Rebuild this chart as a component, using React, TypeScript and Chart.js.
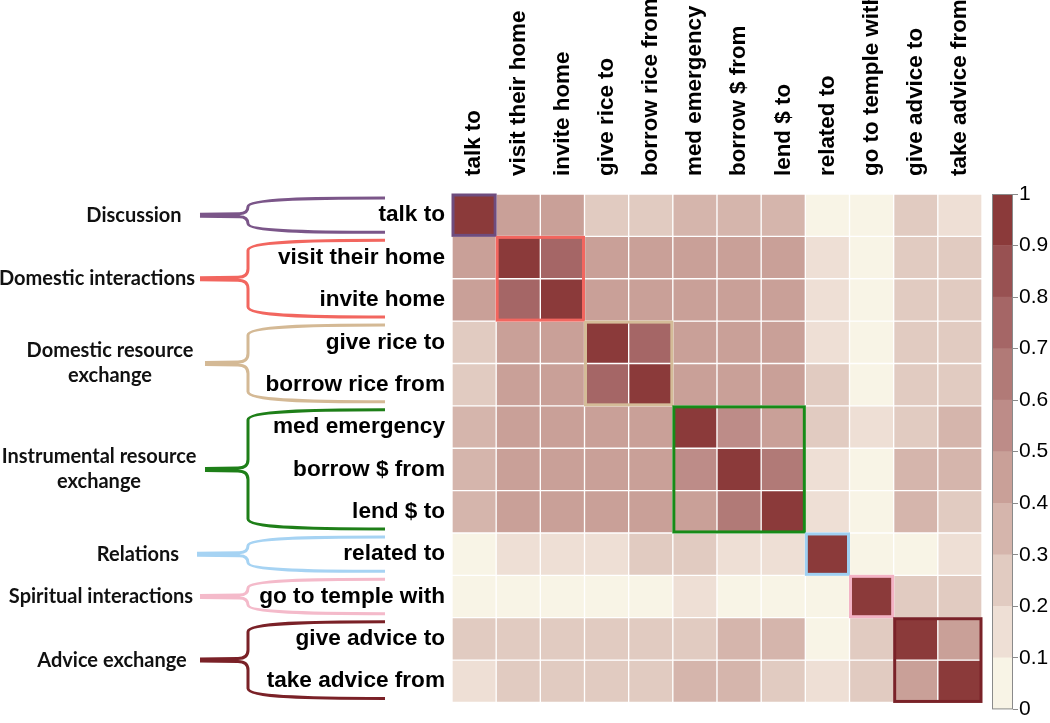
import React, { useEffect, useRef } from 'react';
import { Chart, registerables } from 'chart.js';

Chart.register(...registerables);

// ---------- data ----------
const rowLabels = [
  'talk to', 'visit their home', 'invite home', 'give rice to', 'borrow rice from',
  'med emergency', 'borrow $ from', 'lend $ to', 'related to', 'go to temple with',
  'give advice to', 'take advice from',
];
const colLabels = [
  'talk to', 'visit their home', 'invite home', 'give rice to', 'borrow rice from',
  'med emergency', 'borrow $ from', 'lend $ to', 'related to', 'go to temple with',
  'give advice to', 'take advice from',
];

const talkTo = [1, 0.42, 0.42, 0.25, 0.25, 0.35, 0.35, 0.35, 0.05, 0.05, 0.25, 0.15];
const visitTheirHome = [0.42, 1, 0.75, 0.45, 0.45, 0.45, 0.45, 0.45, 0.15, 0.05, 0.25, 0.25];
const inviteHome = [0.42, 0.75, 1, 0.45, 0.45, 0.45, 0.45, 0.45, 0.15, 0.05, 0.25, 0.25];
const giveRiceTo = [0.25, 0.45, 0.45, 1, 0.72, 0.45, 0.45, 0.45, 0.15, 0.05, 0.25, 0.25];
const borrowRiceFrom = [0.25, 0.45, 0.45, 0.72, 1, 0.45, 0.45, 0.45, 0.25, 0.05, 0.25, 0.25];
const medEmergency = [0.35, 0.45, 0.45, 0.45, 0.45, 1, 0.55, 0.45, 0.25, 0.15, 0.25, 0.35];
const borrowMoneyFrom = [0.35, 0.45, 0.45, 0.45, 0.45, 0.55, 1, 0.65, 0.15, 0.05, 0.35, 0.35];
const lendMoneyTo = [0.35, 0.45, 0.45, 0.45, 0.45, 0.45, 0.65, 1, 0.15, 0.05, 0.35, 0.25];
const relatedTo = [0.05, 0.15, 0.15, 0.15, 0.25, 0.25, 0.15, 0.15, 1, 0.05, 0.05, 0.15];
const templeWith = [0.05, 0.05, 0.05, 0.05, 0.05, 0.15, 0.05, 0.05, 0.05, 1, 0.25, 0.25];
const giveAdviceTo = [0.25, 0.25, 0.25, 0.25, 0.25, 0.25, 0.35, 0.35, 0.05, 0.25, 1, 0.45];
const takeAdviceFrom = [0.15, 0.25, 0.25, 0.25, 0.25, 0.35, 0.35, 0.25, 0.15, 0.25, 0.45, 1];

const matrixRows = [
  talkTo, visitTheirHome, inviteHome, giveRiceTo, borrowRiceFrom, medEmergency,
  borrowMoneyFrom, lendMoneyTo, relatedTo, templeWith, giveAdviceTo, takeAdviceFrom,
];

const groupNames = [
  ['Discussion'],
  ['Domestic interactions'],
  ['Domestic resource', 'exchange'],
  ['Instrumental resource', 'exchange'],
  ['Relations'],
  ['Spiritual interactions'],
  ['Advice exchange'],
];
const groupStart = [0, 1, 3, 5, 8, 9, 10];
const groupEnd = [0, 2, 4, 7, 8, 9, 11];

const colorbarTicks = [0, 0.1, 0.2, 0.3, 0.4, 0.5, 0.6, 0.7, 0.8, 0.9, 1];

// ---------- styles ----------
const palette = [
  '#F8F4E6', '#EEDFD5', '#E1CBC1', '#D5B5AC', '#C9A098',
  '#BD8C88', '#B17A77', '#A56666', '#985152', '#8B3A3A',
];
const groupColors = ['#7B5689', '#F2665F', '#D4B995', '#1E7F18', '#A6D3F3', '#F4BACA', '#7A2127'];
const boxColors = ['#6E4C7E', '#F2665F', '#D4BC98', '#178A17', '#9FD0F2', '#F3B3C5', '#7A2228'];
const groupLabelX = [134, 97, 110, 99, 138, 101, 112];
const groupStemX = [200, 200, 205, 205, 197, 200, 200];

const colorFor = (v: number) => palette[Math.min(9, Math.floor(v * 10 + 1e-9))];

const overlayPlugin = {
  id: 'groupOverlay',
  afterDatasetsDraw(chart: any) {
    const ctx = chart.ctx;
    const xs = chart.scales.x;
    const ys = chart.scales.y;
    const half = (xs.getPixelForValue(1) - xs.getPixelForValue(0)) / 2;
    ctx.save();
    ctx.lineWidth = 3;
    groupStart.forEach((s, g) => {
      const e = groupEnd[g];
      const x0 = xs.getPixelForValue(s) - half;
      const x1 = xs.getPixelForValue(e) + half;
      const y0 = ys.getPixelForValue(s - 0.5);
      const y1 = ys.getPixelForValue(e + 0.5);
      ctx.strokeStyle = boxColors[g];
      ctx.strokeRect(x0 + 1, y0 + 1, x1 - x0 - 2, y1 - y0 - 2);
    });
    ctx.restore();
  },
  afterDraw(chart: any) {
    const ctx = chart.ctx;
    const ys = chart.scales.y;
    const vx = 248;
    const armEnd = 385;
    ctx.save();
    groupStart.forEach((s, g) => {
      const e = groupEnd[g];
      const top = ys.getPixelForValue(s - 0.5) + 4;
      const bot = ys.getPixelForValue(e + 0.5) - 4;
      const mid = (top + bot) / 2;
      const r = Math.min(10, (bot - top) / 4);
      const sx = groupStemX[g];
      ctx.strokeStyle = groupColors[g];
      ctx.lineWidth = 3;
      ctx.lineJoin = 'round';
      ctx.lineCap = 'butt';
      ctx.beginPath();
      ctx.moveTo(armEnd, top);
      ctx.bezierCurveTo(310, top, vx, top + 1, vx, top + r);
      ctx.lineTo(vx, mid - r);
      ctx.quadraticCurveTo(vx, mid - 1.5, vx - r, mid - 1.5);
      ctx.lineTo(sx, mid - 1);
      ctx.moveTo(sx, mid + 1);
      ctx.lineTo(vx - r, mid + 1.5);
      ctx.quadraticCurveTo(vx, mid + 1.5, vx, mid + r);
      ctx.lineTo(vx, bot - r);
      ctx.bezierCurveTo(vx, bot - 1, 310, bot, armEnd, bot);
      ctx.stroke();

      const lines = groupNames[g];
      ctx.fillStyle = '#111';
      ctx.font = 'bold 20px Lato, "Open Sans", sans-serif';
      ctx.textAlign = 'center';
      ctx.textBaseline = 'middle';
      const lh = 25;
      lines.forEach((t, i) => {
        const y = mid + (i - (lines.length - 1) / 2) * lh;
        ctx.fillText(t, groupLabelX[g], y);
      });
    });
    ctx.restore();
  },
};

const colorbarFrame = {
  id: 'colorbarFrame',
  afterDatasetsDraw(chart: any) {
    const { left, right, top, bottom } = chart.chartArea;
    const ctx = chart.ctx;
    ctx.save();
    ctx.strokeStyle = '#8a8a8a';
    ctx.lineWidth = 1;
    ctx.strokeRect(left + 0.5, top + 0.5, right - left - 1, bottom - top - 1);
    ctx.restore();
  },
};

export default function App() {
  const mainRef = useRef<HTMLCanvasElement>(null);
  const barRef = useRef<HTMLCanvasElement>(null);

  useEffect(() => {
    const datasets = matrixRows.map((row, r) => ({
      label: rowLabels[r],
      data: row.map(() => [r - 0.5, r + 0.5]),
      backgroundColor: row.map(colorFor),
      borderColor: '#ffffff',
      borderWidth: 1,
      borderSkipped: false,
      grouped: false,
      barPercentage: 1,
      categoryPercentage: 1,
    }));

    const main = new Chart(mainRef.current as HTMLCanvasElement, {
      type: 'bar',
      data: { labels: colLabels, datasets: datasets as any },
      options: {
        animation: false,
        responsive: false,
        layout: { padding: { left: 0, right: 68, top: 0, bottom: 9 } },
        plugins: { legend: { display: false }, tooltip: { enabled: false } },
        scales: {
          x: {
            type: 'category',
            position: 'top',
            offset: true,
            grid: { display: false, drawTicks: false },
            border: { display: false },
            ticks: {
              autoSkip: false,
              minRotation: 90,
              maxRotation: 90,
              padding: 18,
              labelOffset: 27,
              color: '#000',
              font: { family: '"Liberation Sans", Arial, sans-serif', size: 22.4, weight: 'bold' },
            },
            afterFit: (scale: any) => { scale.height = 194; },
          },
          y: {
            type: 'linear',
            reverse: true,
            min: -0.5,
            max: 11.5,
            grid: { display: false, drawTicks: false },
            border: { display: false },
            afterBuildTicks: (scale: any) => {
              scale.ticks = rowLabels.map((_, i) => ({ value: i }));
            },
            ticks: {
              padding: 7,
              color: '#000',
              font: { family: '"Liberation Sans", Arial, sans-serif', size: 22.6, weight: 'bold' },
              callback: (v: any) => rowLabels[Math.round(Number(v))] ?? '',
            },
            afterFit: (scale: any) => { scale.width = 452; },
          },
        },
      } as any,
      plugins: [overlayPlugin],
    });

    const bands = palette.map((c, i) => ({
      data: [[colorbarTicks[i], colorbarTicks[i + 1]]],
      backgroundColor: c,
      borderWidth: 0,
      grouped: false,
      barPercentage: 1,
      categoryPercentage: 1,
    }));

    const bar = new Chart(barRef.current as HTMLCanvasElement, {
      type: 'bar',
      data: { labels: [''], datasets: bands as any },
      options: {
        animation: false,
        responsive: false,
        layout: { padding: { left: 12, right: 0, top: 194, bottom: 10 } },
        plugins: { legend: { display: false }, tooltip: { enabled: false } },
        scales: {
          x: { display: false },
          y: {
            type: 'linear',
            position: 'right',
            min: 0,
            max: 1,
            afterBuildTicks: (scale: any) => {
              scale.ticks = colorbarTicks.map((v) => ({ value: v }));
            },
            grid: { drawOnChartArea: false, drawTicks: true, tickLength: 5, color: '#8a8a8a' },
            border: { display: false },
            ticks: {
              padding: 1,
              color: '#000',
              font: { family: '"Liberation Sans", Arial, sans-serif', size: 21 },
              callback: (v: any) => String(Math.round(Number(v) * 10) / 10),
            },
            afterFit: (scale: any) => { scale.width = 37; },
          },
        },
      } as any,
      plugins: [colorbarFrame],
    });

    return () => {
      main.destroy();
      bar.destroy();
    };
  }, []);

  return (
    <div style={{ position: 'fixed', left: 0, top: 0, width: 1050, height: 723, background: '#fff', overflow: 'hidden' }}>
      <canvas ref={mainRef} width={1050} height={723} style={{ position: 'absolute', left: 0, top: 0 }} />
      <canvas ref={barRef} width={70} height={723} style={{ position: 'absolute', left: 980, top: 0 }} />
    </div>
  );
}
